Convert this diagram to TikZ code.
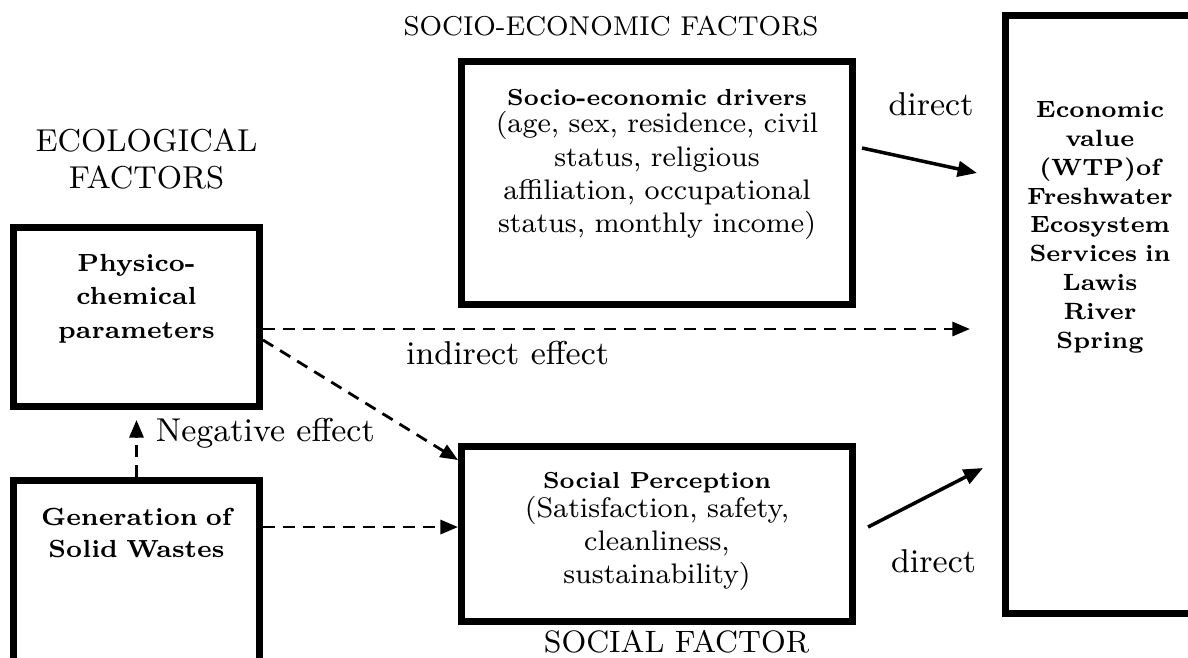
\documentclass[tikz,border=0pt]{standalone}
\usepackage{tikz,amsmath}
\usetikzlibrary{positioning,arrows.meta}
\tikzstyle{factorbox}=[rectangle, draw=black, line width=2pt, inner xsep=0pt, inner ysep=0pt,
 align=center, font=\fontsize{8.05}{9.5}\selectfont]
\tikzstyle{headtext}=[inner sep=0pt, align=center]
\tikzstyle{efftext}=[inner sep=0pt, font=\fontsize{9.4}{11}\selectfont]
\tikzstyle{dline}=[-{Triangle[length=5.5pt,width=4.4pt]}, line width=1pt]
\tikzstyle{tline}=[-{Triangle[length=5pt,width=4pt]}, thick, dash pattern=on 3.4pt off 2.3pt]
\newcommand{\boxhead}[1]{{\fontsize{6.6}{9.5}\selectfont\bfseries #1}}

\begin{document}
\begin{tikzpicture}
\useasboundingbox (0,0) rectangle (11.88,-6.57);

	\node (phys) [factorbox, minimum width=2.46cm, text width=2.2cm, text height=0.435cm, text depth=1.355cm,
	 font=\fontsize{7.05}{9.6}\selectfont\bfseries] at (1.365,-3.17) {Physico-\\chemical\\parameters};
	\node (gen) [factorbox, below=0.67cm of phys, minimum width=2.46cm, text width=2.2cm, text height=0.445cm,
	 text depth=1.615cm, font=\fontsize{7.05}{9.1}\selectfont\bfseries] {Generation of\\Solid Wastes};
	\node (social) [factorbox, below right=0.33cm and 1.95cm of phys, minimum width=3.91cm, text width=3.6cm,
	 text height=0.415cm, text depth=1.335cm] {\boxhead{Social Perception}\\[-1.2pt] (Satisfaction, safety,\\ cleanliness,\\ sustainability)};
	\node (socio) [factorbox, above=1.35cm of social, minimum width=3.91cm, text width=3.6cm,
	 text height=0.435cm, text depth=1.995cm] {\boxhead{Socio-economic drivers}\\[-1.6pt] (age, sex, residence, civil\\ status, religious\\ affiliation, occupational\\ status, monthly income)};
	\node (econ) [factorbox, minimum width=1.89cm, text width=1.7cm, text height=1.015cm, text depth=4.965cm,
	 font=\fontsize{6.7}{8.25}\selectfont\bfseries] at (11.00,-3.145) {Economic\\ value\\ (WTP)of\\ Freshwater\\ Ecosystem\\ Services in\\ Lawis\\ River\\ Spring};
%  headings
	\node (ecotitle) [headtext, above=0.34cm of phys, xshift=0.1cm, font=\fontsize{9}{10.5}\selectfont] {ECOLOGICAL\\FACTORS};
	\node (sociotitle) [headtext, above=0.21cm of socio, xshift=-0.46cm, font=\fontsize{7.75}{9}\selectfont] {SOCIO-ECONOMIC FACTORS};
	\node (socialtitle) [headtext, below=0.05cm of social, xshift=0.195cm, font=\fontsize{8.8}{10}\selectfont] {SOCIAL FACTOR};

   \draw[dline] ([xshift=0.06cm,yshift=0.35cm]socio.east) -- ([xshift=-0.25cm,yshift=1.415cm]econ.west)
    node[efftext, pos=0.6, above=0.45cm] {direct};
   \draw[dline] ([xshift=0.12cm,yshift=0.07cm]social.east) -- ([xshift=-0.19cm,yshift=-1.535cm]econ.west)
    node[efftext, pos=0.57, below=0.545cm] {direct};

   \coordinate (ind) at ([yshift=-0.12cm]phys.east);
   \draw[tline, shorten >=0.32cm] (ind) -- (ind -| econ.west) node[efftext, pos=0.331, below=0.11cm] {indirect effect};
   \draw[tline] ([yshift=-0.23cm]phys.east) -- ([yshift=-0.17cm]social.north west);
   \coordinate (gs) at ([yshift=0.07cm]social.west);
   \draw[tline] (gs -| gen.east) -- (gs);
   \draw[tline, shorten >=0.1cm] (gen.north) -- (phys.south) node[efftext, pos=0.66, right=0.18cm] {Negative effect};

\end{tikzpicture}
\end{document}
